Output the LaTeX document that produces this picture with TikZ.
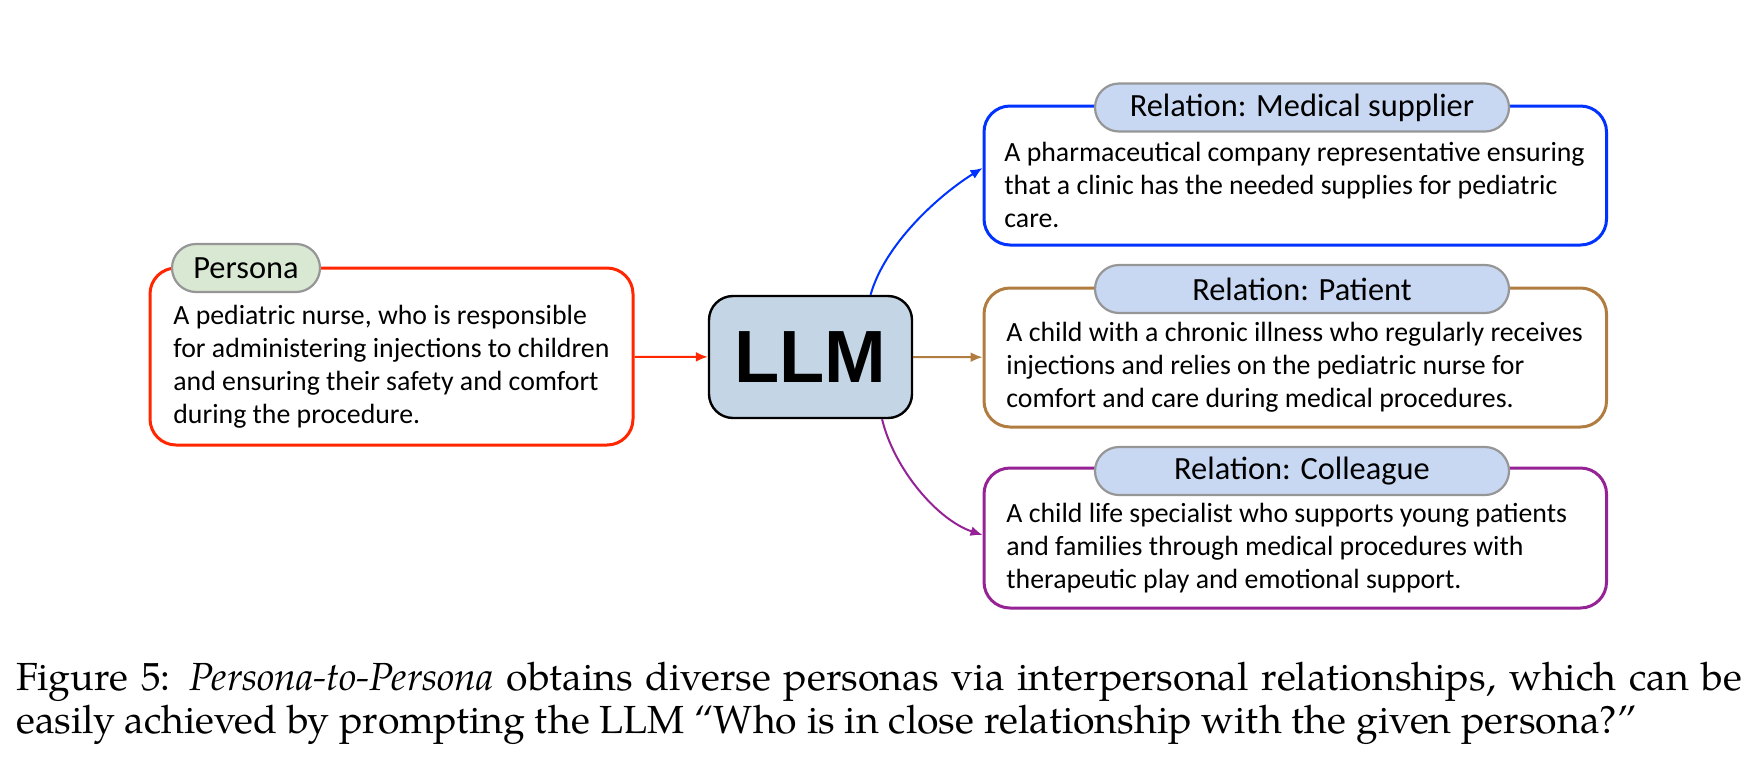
\documentclass[tikz,border=0pt]{standalone}
\usepackage{fontspec}
\setmainfont{Carlito}
\newfontfamily\llmfont{Liberation Sans}
\newfontfamily\capfont{TeX Gyre Pagella}
\usetikzlibrary{arrows.meta}
\definecolor{redc}{RGB}{255,38,0}
\definecolor{bluec}{RGB}{0,51,255}
\definecolor{brownc}{RGB}{176,124,64}
\definecolor{purplec}{RGB}{150,35,150}
\definecolor{pillblue}{RGB}{201,216,242}
\definecolor{pillgreen}{RGB}{217,232,211}
\definecolor{pillgray}{RGB}{150,150,150}
\definecolor{llmfill}{RGB}{196,214,230}
\begin{document}
\begin{tikzpicture}[x=0.5pt,y=-0.5pt,
  box/.style={draw, line width=1.5pt, rounded corners=13pt, fill=white, inner sep=0pt},
  pill/.style={draw=pillgray, line width=1.1pt, rounded corners=12pt, inner sep=0pt,
    minimum height=24pt, font=\fontsize{16.2}{19}\selectfont},
  body/.style={anchor=base west, align=left, inner sep=0pt, font=\fontsize{13.9}{16.5}\selectfont},
  arr/.style={line width=1pt, -{Latex[length=6pt,width=5pt]}},
  captext/.style={anchor=base west, inner sep=0pt, font=\capfont\fontsize{19.6}{23}\selectfont}
]
\useasboundingbox (0,0) rectangle (1764,782);

% boxes
\node[box, draw=redc, minimum width=241.5pt, minimum height=88.5pt] (persona) at (391.5,356.5) {};
\node[box, draw=bluec, minimum width=311.25pt, minimum height=69.5pt] (blue) at (1295.25,175.5) {};
\node[box, draw=brownc, minimum width=311.25pt, minimum height=69.5pt] (brown) at (1295.25,357.5) {};
\node[box, draw=purplec, minimum width=311.25pt, minimum height=70pt] (purple) at (1295.25,538) {};

% tags
\node[pill, fill=pillgreen, minimum width=74pt] (ppersona) at (246,268) {Persona};
\node[pill, fill=pillblue, minimum width=207pt] (pblue) at (1302,107.5) {Relation: Medical supplier};
\node[pill, fill=pillblue, minimum width=207pt] (pbrown) at (1302,289) {Relation: Patient};
\node[pill, fill=pillblue, minimum width=207pt] (ppurple) at (1302,471) {Relation: Colleague};

% texts (anchored at the baseline of the last line)
\node[body] (tpersona) at (173,423) {A pediatric nurse, who is responsible\\for administering injections to children\\and ensuring their safety and comfort\\during the procedure.};
\node[body] (tblue) at (1004,227) {A pharmaceutical company representative ensuring\\that a clinic has the needed supplies for pediatric\\care.};
\node[body] (tbrown) at (1006,407) {A child with a chronic illness who regularly receives\\injections and relies on the pediatric nurse for\\comfort and care during medical procedures.};
\node[body] (tpurple) at (1006,588) {A child life specialist who supports young patients\\and families through medical procedures with\\therapeutic play and emotional support.};

% LLM
\node[draw=black, line width=1.2pt, fill=llmfill, rounded corners=12pt, minimum width=101.5pt,
  minimum height=61pt, inner sep=0pt, font=\llmfont\bfseries\fontsize{37}{40}\selectfont] (llm) at (810.5,357) {LLM};

% connectors
\draw[arr, redc] (persona) -- (llm);
\draw[arr, brownc] (llm) -- (brown);
\draw[arr, bluec] (llm.46) .. controls +(14,-50) and +(-45,28) .. ([yshift=3.75pt]blue.west);
\draw[arr, purplec] (llm.-41) .. controls +(12,50) and +(-45,-15) .. ([yshift=1.5pt]purple.west);

% caption
\node[captext] (cap1) at (16,690) {\makebox[863pt][s]{Figure 5: \textit{Persona-to-Persona} obtains diverse personas via interpersonal relationships, which can be}};
\node[captext] (cap2) at (16,733) {easily achieved by prompting the LLM “Who is in close relationship with the given persona?”};
\end{tikzpicture}
\end{document}
